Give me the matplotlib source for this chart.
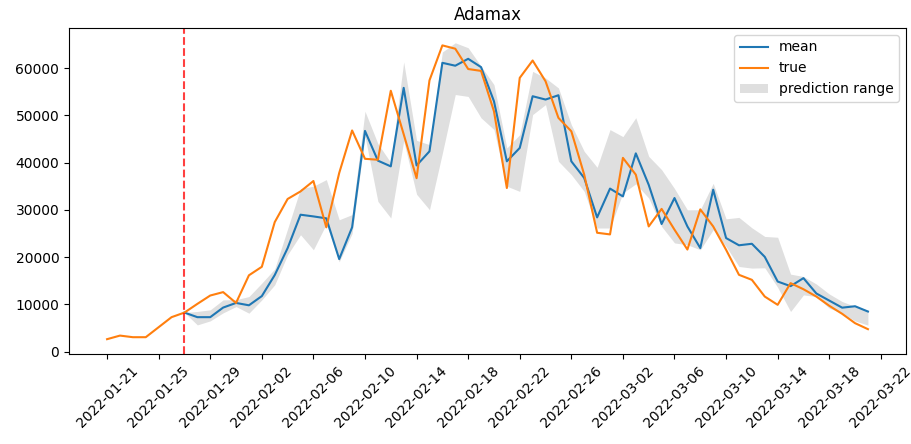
import numpy as np
import pandas as pd
import matplotlib
matplotlib.use("Agg")
import matplotlib.pyplot as plt

# --- data ---
dates = pd.date_range("2022-01-21", "2022-03-21", freq="D")
split_date = pd.Timestamp("2022-01-27")

true_vals = [2630, 3390, 3050, 3050, 5170, 7290, 8260, 10100, 11870, 12590,
             10300, 16150, 17950, 27400, 32300, 33900, 36100, 26300, 37800, 46800,
             40800, 40600, 55200, 46000, 36700, 57400, 64800, 64100, 59800, 59400,
             50860, 34620, 57930, 61600, 57210, 49460, 46620, 37440, 25150, 24800,
             41000, 37440, 26490, 30200, 25800, 21600, 30100, 26490, 21550, 16250,
             15190, 11650, 9900, 14490, 13200, 11650, 9700, 8000, 6020, 4750]

mean_vals = [8260, 7290, 7290, 9320, 10300, 9800, 11750, 16200, 21900, 28970,
             28610, 28200, 19580, 26300, 46700, 40410, 39200, 55810, 39400, 42380,
             61110, 60500, 61960, 60200, 52980, 40270, 43100, 54040, 53340, 54250,
             40270, 36740, 28400, 34500, 32840, 41950, 35300, 27000, 32500, 26490,
             21910, 34260, 24030, 22500, 22820, 20050, 14830, 13850, 15550, 12300,
             10800, 9300, 9600, 8480]

upper_vals = [8260, 8500, 8840, 10950, 11000, 11650, 14500, 17500, 26000, 34500,
              35000, 36400, 27900, 29000, 50860, 44000, 40000, 61300, 44700, 43800,
              63400, 65350, 64300, 60400, 56500, 43100, 45900, 59300, 57900, 55800,
              48000, 42380, 39000, 46980, 45500, 49500, 41320, 38500, 34500, 30000,
              30030, 35600, 28100, 28400, 26200, 24370, 24200, 16400, 15890, 14300,
              12200, 10600, 9540, 8800]

lower_vals = [8260, 5650, 6500, 8200, 9530, 8130, 10950, 14130, 20500, 24730,
              21550, 27000, 19000, 25000, 45560, 31790, 28270, 44600, 33300, 30030,
              42000, 54400, 54000, 49460, 47000, 35000, 33900, 50160, 52270, 40270,
              37440, 33900, 26150, 26150, 33570, 35500, 32500, 26490, 23000, 22610,
              21550, 25790, 22250, 18010, 17670, 17740, 13600, 8480, 12000, 11650,
              9200, 8130, 6500, 5600]

pred_dates = dates[dates >= split_date]

fig = plt.figure(figsize=(9.12, 4.44), dpi=100)
ax = fig.add_axes([0.0757, 0.2027, 0.9177, 0.7343])

ax.plot(pred_dates, mean_vals, color="#1f77b4", label="mean")
ax.plot(dates, true_vals, color="#ff7f0e", label="true")
ax.fill_between(pred_dates, lower_vals, upper_vals, color="gray", alpha=0.25,
                linewidth=0, label="prediction range")
ax.axvline(split_date, color="red", linestyle="--", alpha=0.75)

ticks = pd.date_range("2022-01-21", "2022-03-22", freq="4D")
ax.set_xticks(ticks)
ax.set_xticklabels([t.strftime("%Y-%m-%d") for t in ticks], rotation=45)
ax.set_title("Adamax")
ax.legend(loc="upper right")

fig.savefig("out.png", dpi=100)
